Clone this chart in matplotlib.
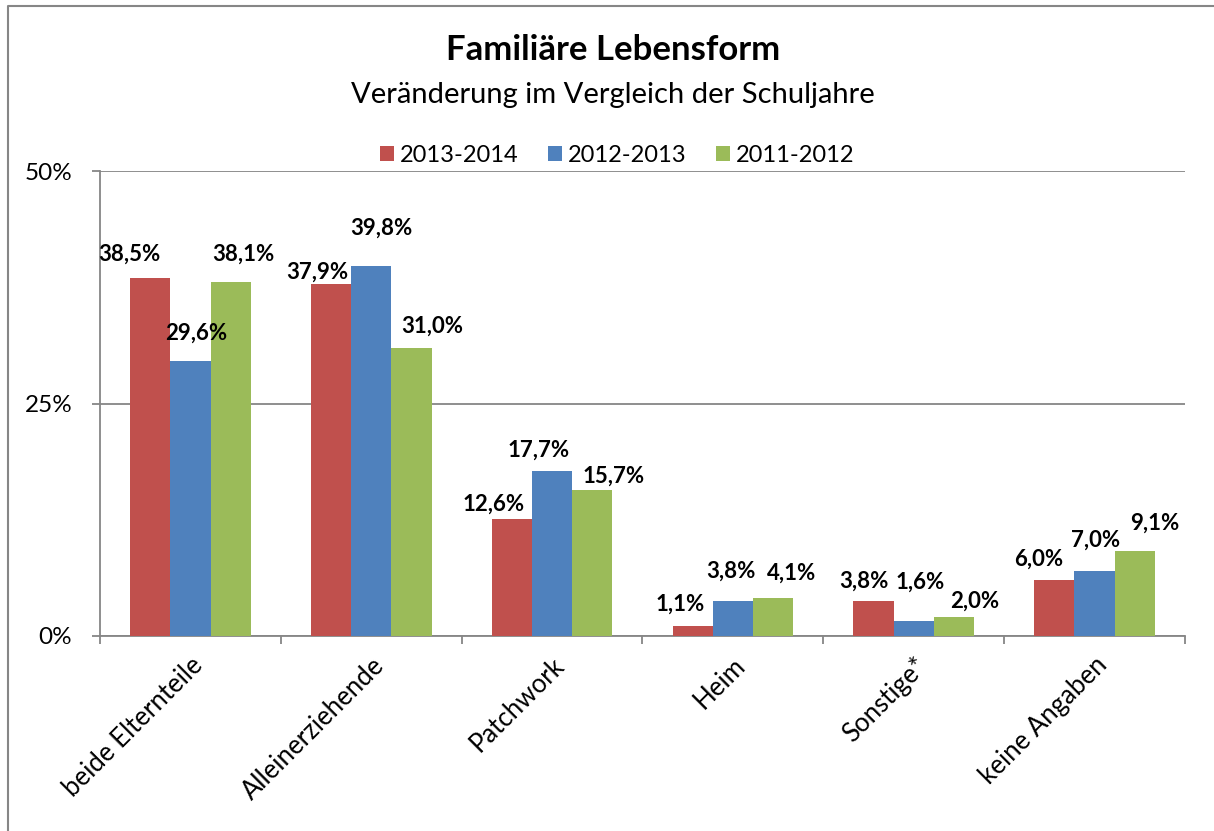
import numpy as np
import matplotlib.pyplot as plt
from matplotlib.lines import Line2D

plt.rcParams['font.family'] = ['Lato', 'DejaVu Sans']

categories = ["beide Elternteile", "Alleinerziehende", "Patchwork", "Heim", "Sonstige*", "keine Angaben"]
series = ["2013-2014", "2012-2013", "2011-2012"]
v_2013_2014 = [38.5, 37.9, 12.6, 1.1, 3.8, 6.0]
v_2012_2013 = [29.6, 39.8, 17.7, 3.8, 1.6, 7.0]
v_2011_2012 = [38.1, 31.0, 15.7, 4.1, 2.0, 9.1]
values = [v_2013_2014, v_2012_2013, v_2011_2012]
colors = ["#C0504D", "#4F81BD", "#9BBB59"]

# label nudges in pixels (dx, dy above bar top), as placed in the original chart
nudges = [
    [(-21, 24), (-14, 11), (-18, 15), (-13, 22), (-10, 19), (-16, 21)],
    [(6, 28), (10, 38), (-13, 21), (-2, 29), (6, 39), (1, 31)],
    [(13, 27), (21, 21), (21, 14), (18, 25), (21, 16), (20, 28)],
]

fig = plt.figure(figsize=(12.14, 8.31), dpi=100)
ax = fig.add_axes([100 / 1214, 1 - 636 / 831, 1085 / 1214, 465 / 831])

x = np.arange(len(categories))
w = 1 / 4.5
for i, (s, vals, c) in enumerate(zip(series, values, colors)):
    pos = x + (i - 1) * w
    ax.bar(pos, vals, width=w, color=c, label=s, zorder=3)
    for p, v, (dx, dy) in zip(pos, vals, nudges[i]):
        ax.annotate(f"{v:.1f}%".replace(".", ","), (p, v),
                    xytext=(dx * 0.72, dy * 0.72), textcoords="offset points",
                    ha="center", va="center", fontsize=16, fontweight="bold", zorder=6)

ax.set_xlim(-0.5, len(categories) - 0.5)
ax.set_ylim(0, 50)
ax.set_yticks([0, 25, 50], ["0%", "25%", "50%"])
ax.yaxis.grid(True, color="#868686", linewidth=1.3, zorder=0)
ax.set_xticks(np.arange(len(categories) + 1) - 0.5, [""] * (len(categories) + 1))
ax.set_xticks(x, categories, minor=True)
ax.tick_params(axis="x", which="minor", length=0, pad=12)
ax.tick_params(axis="x", which="major", length=6, color="#868686", width=1.3)
ax.tick_params(axis="y", length=6, color="#868686", width=1.3, labelsize=17.5, pad=14)
for lab in ax.get_xticklabels(minor=True):
    lab.set_rotation(45)
    lab.set_ha("right")
    lab.set_rotation_mode("anchor")
    lab.set_fontsize(18.5)

for side in ["top", "right"]:
    ax.spines[side].set_visible(False)
for side in ["left", "bottom"]:
    ax.spines[side].set_color("#868686")
    ax.spines[side].set_linewidth(1.3)

fig.text(613 / 1214, 1 - 50 / 831, "Familiäre Lebensform", ha="center", va="center",
         fontsize=25, fontweight="bold")
fig.text(613 / 1214, 1 - 95 / 831, "Veränderung im Vergleich der Schuljahre",
         ha="center", va="center", fontsize=21)
fig.legend(loc="center", bbox_to_anchor=(617 / 1214, 1 - 155 / 831), ncol=3, frameon=False,
           fontsize=17, handlelength=0.6, handleheight=0.6, handletextpad=0.25, columnspacing=1.25)

# outer chart frame (only top and left edges are visible)
fig.add_artist(Line2D([8 / 1214, 8 / 1214, 1.0], [0.0, 1 - 6 / 831, 1 - 6 / 831],
                      transform=fig.transFigure, color="#868686", linewidth=1.5))

fig.savefig("out.png", dpi=100)
